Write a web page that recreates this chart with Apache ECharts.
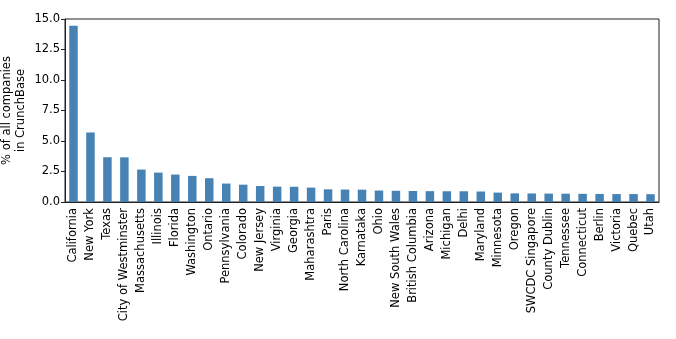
<!DOCTYPE html>
<html>
<head>
<meta charset="utf-8">
<script src="https://cdn.jsdelivr.net/npm/echarts@6/dist/echarts.min.js"></script>
<style>
html,body{margin:0;padding:0;background:#fff;}
#chart{width:676px;height:339px;}
</style>
</head>
<body>
<div id="chart"></div>
<script>
// regions with most companies
var regions = ['California', 'New York', 'Texas', 'City of Westminster', 'Massachusetts',
    'Illinois', 'Florida', 'Washington', 'Ontario', 'Pennsylvania', 'Colorado',
    'New Jersey', 'Virginia', 'Georgia', 'Maharashtra', 'Paris', 'North Carolina',
    'Karnataka', 'Ohio', 'New South Wales', 'British Columbia', 'Arizona', 'Michigan',
    'Delhi', 'Maryland', 'Minnesota', 'Oregon', 'SWCDC Singapore', 'County Dublin',
    'Tennessee', 'Connecticut', 'Berlin', 'Victoria', 'Quebec', 'Utah'];
// % of all companies
var shares = [14.45, 5.70, 3.67, 3.66, 2.66,
    2.41, 2.25, 2.14, 1.95, 1.51, 1.42,
    1.31, 1.26, 1.25, 1.18, 1.04, 1.02,
    1.01, 0.94, 0.92, 0.90, 0.89, 0.88,
    0.88, 0.86, 0.77, 0.71, 0.70, 0.69,
    0.68, 0.67, 0.66, 0.65, 0.65, 0.64];
var yTicks = [0, 2.5, 5, 7.5, 10, 12.5, 15];

var font = 'DejaVu Sans';
var chart = echarts.init(document.getElementById('chart'));
var option = {
    animation: false,
    grid: {
        left: 65,
        right: 17,
        top: 19,
        bottom: 137,
        containLabel: false,
        outerBoundsMode: 'none',
        show: true,
        borderColor: '#222',
        borderWidth: 1,
        backgroundColor: 'transparent'
    },
    xAxis: {
        type: 'category',
        data: regions,
        boundaryGap: true,
        axisLine: {lineStyle: {color: '#222', width: 1}},
        axisTick: {alignWithLabel: true, length: 4, lineStyle: {color: '#222'}},
        axisLabel: {
            interval: 0,
            rotate: 90,
            margin: 6,
            color: '#000',
            fontFamily: font,
            fontSize: 11.5
        }
    },
    yAxis: {
        type: 'value',
        min: yTicks[0],
        max: yTicks[yTicks.length - 1],
        interval: 2.5,
        name: '% of all companies\nin CrunchBase',
        nameLocation: 'middle',
        nameGap: 37,
        nameMoveOverlap: false,
        nameTextStyle: {color: '#000', fontFamily: font, fontSize: 11.5, lineHeight: 14, align: 'center'},
        axisLine: {show: true, lineStyle: {color: '#222', width: 1}},
        axisTick: {show: true, length: 4, lineStyle: {color: '#222'}},
        splitLine: {show: false},
        axisLabel: {
            margin: 5,
            color: '#000',
            fontFamily: font,
            fontSize: 11.5,
            formatter: function (v) { return v.toFixed(1); }
        }
    },
    series: [{
        type: 'bar',
        data: shares,
        barWidth: '50%',
        itemStyle: {color: '#4682b4'}
    }]
};
chart.setOption(option);
</script>
</body>
</html>
